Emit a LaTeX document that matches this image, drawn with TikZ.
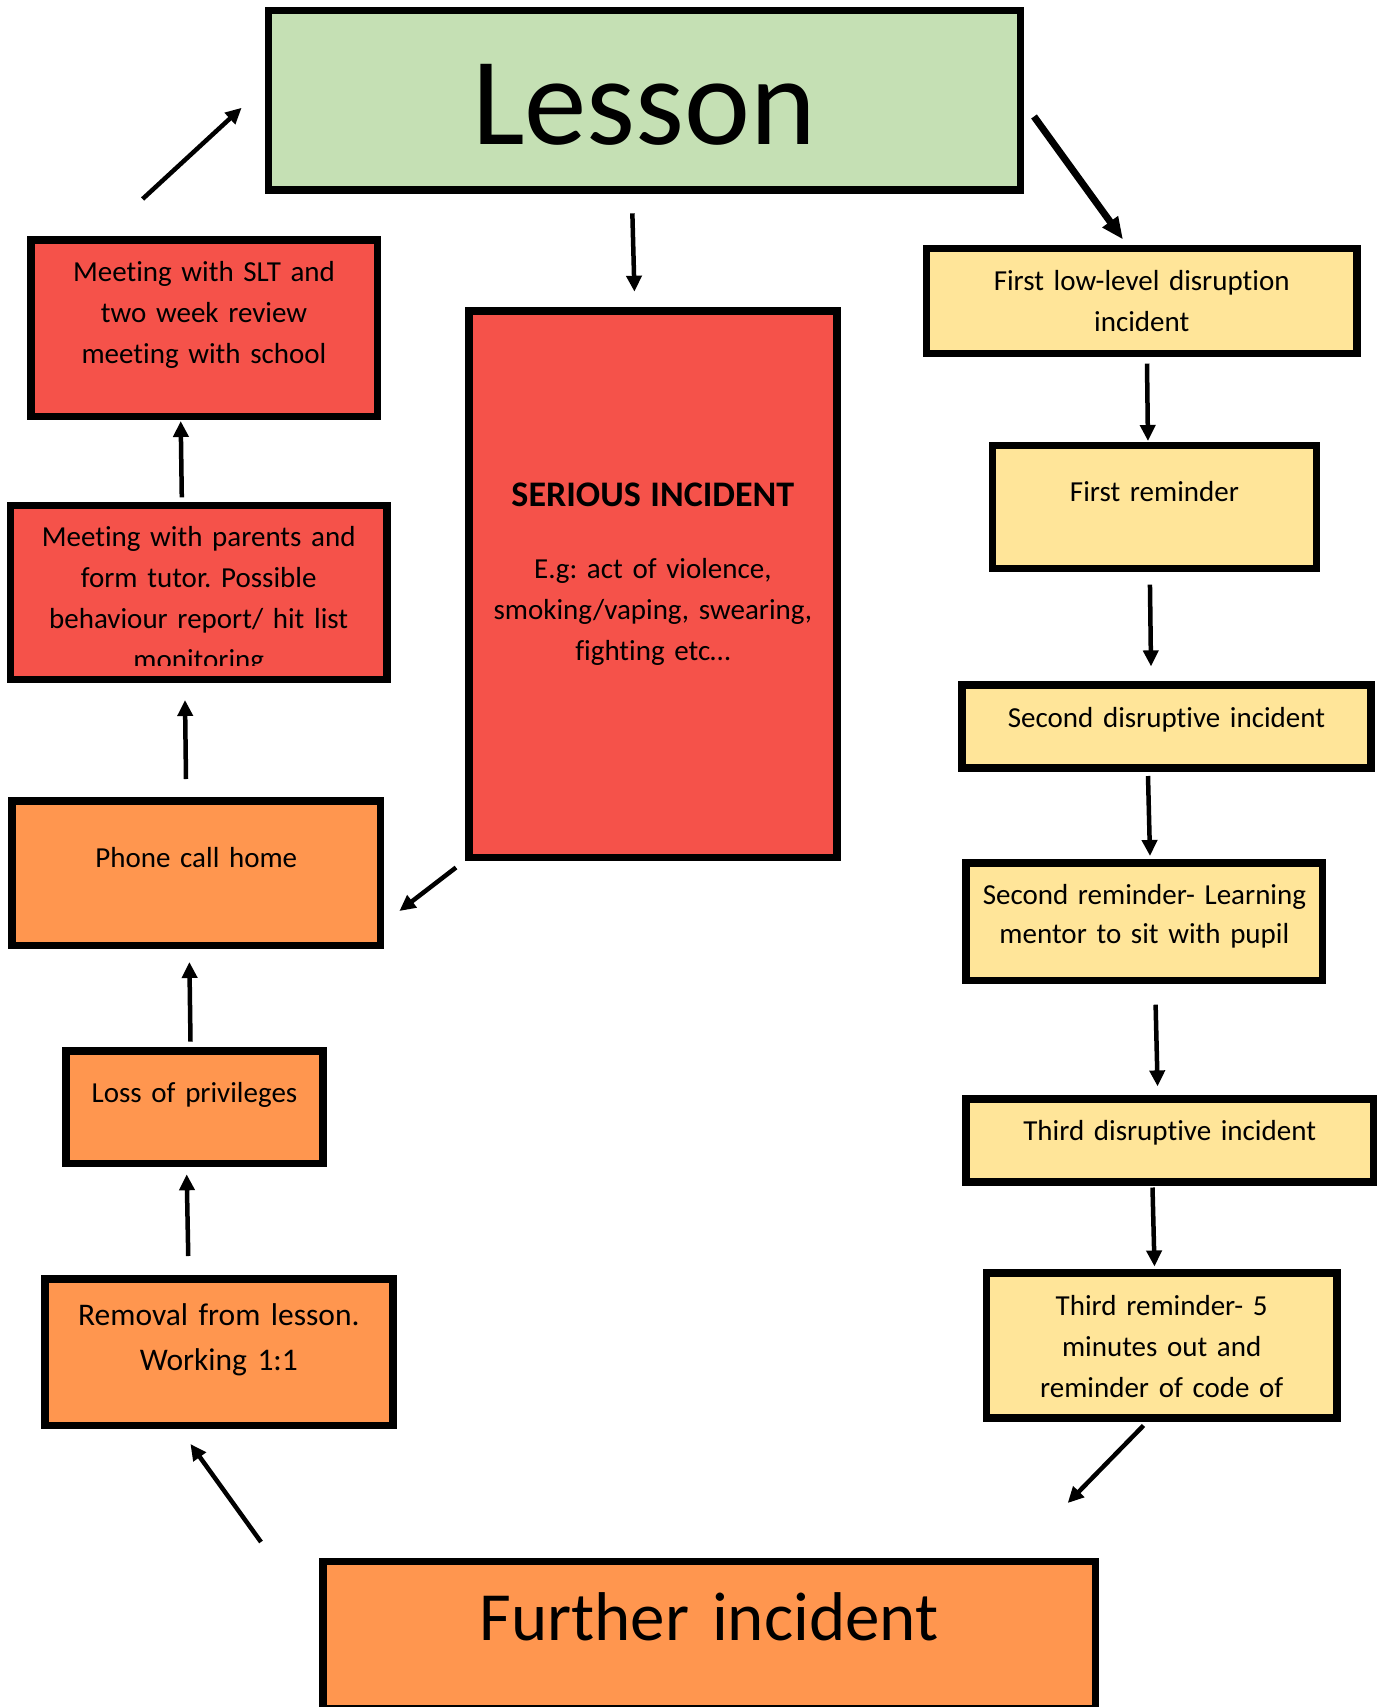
\documentclass[tikz,border=0pt]{standalone}
\usepackage{fontspec}
\setmainfont{Carlito}[Ligatures=NoCommon]
\usetikzlibrary{arrows.meta}
\frenchspacing

\definecolor{lessongreen}{HTML}{C5E0B4}
\definecolor{alertred}{HTML}{F5524A}
\definecolor{actorange}{HTML}{FF964F}
\definecolor{warnyellow}{HTML}{FFE599}

\begin{document}
\begin{tikzpicture}[
			x=1pt, y=-1pt,
			stage/.style={draw=black, line width=7.5pt, inner sep=0pt, align=center, font=\fontsize{29}{41}\selectfont},
			flow/.style={line width=4.5pt, -{Triangle[length=16pt,width=15pt]}}
			]
			\path[use as bounding box, fill=white] (0,0) rectangle (1379,1707);
			
			\node[
			stage, fill=lessongreen,
			text width=752pt, text height=134.25pt, text depth=45.25pt,
			font=\fontsize{125}{150}\selectfont
			] (lesson) at (644.25,100.5) {Lesson};
			
			% left column
			\node[
			stage, fill=alertred,
			text width=346.5pt, text height=42pt, text depth=134.5pt
			] (slt) at (204,328) {Meeting with SLT and\\two week review\\meeting with school};
			
			\node[
			stage, fill=alertred,
			minimum width=376.5pt, minimum height=174.1pt,
			path picture={
				\clip ([yshift=14.5pt]path picture bounding box.south west) rectangle (path picture bounding box.north east);
				\node[draw=none, fill=none, anchor=base, inner sep=0pt, text width=376.5pt, align=center, font=\fontsize{29}{41}\selectfont]
				at ([yshift=-41.25pt]path picture bounding box.north) {Meeting with parents and\\form tutor. Possible\\behaviour report/ hit list\\monitoring};
			}
			] (parents) at (198.7,592.5) {};
			
			\node[
			stage, fill=actorange,
			text width=368.5pt, text height=66.25pt, text depth=78.25pt
			] (phone) at (196.3,873.3) {Phone call home};
			
			\node[
			stage, fill=actorange,
			text width=256.9pt, text height=51.25pt, text depth=61.25pt
			] (loss) at (194.5,1107.3) {Loss of privileges};
			
			\node[
			stage, fill=actorange,
			text width=348.2pt, text height=46.25pt, text depth=100.55pt,
			font=\fontsize{31.5}{45}\selectfont
			] (removal) at (218.85,1352.15) {Removal from lesson.\\Working 1:1};
			
			% middle
			\node[
			stage, fill=alertred,
			text width=368.2pt, text height=194.85pt, text depth=351.25pt
			] (serious) at (652.85,584.2) {{\bfseries\fontsize{36}{41}\selectfont SERIOUS INCIDENT}\\[31pt]E.g: act of violence,\\smoking/vaping, swearing,\\fighting etc…};
			
			% right column
			\node[
			stage, fill=warnyellow,
			text width=430.5pt, text height=42pt, text depth=62.85pt
			] (first) at (1141.7,301.15) {First low-level disruption\\incident};
			
			\node[
			stage, fill=warnyellow,
			text width=324.4pt, text height=55.85pt, text depth=66.95pt
			] (remind1) at (1154.45,506.85) {First reminder};
			
			\node[
			stage, fill=warnyellow,
			text width=408.7pt, text height=42.45pt, text depth=40.45pt
			] (second) at (1166.5,726.4) {Second disruptive incident};
			
			\node[
			stage, fill=warnyellow,
			text width=356.5pt, text height=41.15pt, text depth=75.95pt,
			font=\fontsize{29}{39}\selectfont
			] (remind2) at (1144.4,921.7) {Second reminder- Learning\\mentor to sit with pupil};
			
			\node[
			stage, fill=warnyellow,
			text width=407.1pt, text height=41.85pt, text depth=41.15pt
			] (third) at (1169.7,1140.35) {Third disruptive incident};
			
			\node[
			stage, fill=warnyellow,
			text width=350.5pt, text height=41.95pt, text depth=102.95pt
			] (remind3) at (1161.7,1345.5) {Third reminder- 5\\minutes out and\\reminder of code of};
			
			\node[
			stage, fill=actorange,
			text width=772.5pt, text height=79.45pt, text depth=68.05pt,
			font=\fontsize{69}{80}\selectfont
			] (further) at (709,1635) {Further incident};
			
			% arrows
			\draw[flow] ([xshift=-61.4pt,yshift=37pt]slt.north) -- ([xshift=-22.9pt,yshift=-7.3pt]lesson.west);
			\draw[flow] ([xshift=-11.9pt,yshift=-19.3pt]lesson.south) -- ([xshift=-18.4pt,yshift=15.7pt]serious.north);
			\draw[flow, line width=7pt, -{Triangle[length=22pt,width=18pt]}] ([xshift=10pt,yshift=-16pt]lesson.east) -- ([xshift=-18.7pt,yshift=5.5pt]first.north);
			\draw[flow] ([xshift=5.3pt,yshift=-6.2pt]first.south) -- ([xshift=-6.5pt,yshift=0.7pt]remind1.north);
			\draw[flow] ([xshift=-4.5pt,yshift=-12.7pt]remind1.south) -- ([xshift=-15.5pt,yshift=14.8pt]second.north);
			\draw[flow] ([xshift=-18.5pt,yshift=-4.4pt]second.south) -- ([xshift=5.6pt,yshift=3.4pt]remind2.north);
			\draw[flow] ([xshift=11.2pt,yshift=-20.7pt]remind2.south) -- ([xshift=-12.1pt,yshift=8.7pt]third.north);
			\draw[flow] ([xshift=-17.2pt,yshift=-1.9pt]third.south) -- ([xshift=-7.2pt,yshift=2.8pt]remind3.north);
			\draw[flow] ([xshift=-18.2pt,yshift=-3.8pt]remind3.south) -- ([xshift=-31.3pt,yshift=54.5pt]further.north east);
			\draw[flow] ([xshift=-58pt,yshift=15.5pt]further.north west) -- ([xshift=-28.4pt,yshift=-14.7pt]removal.south);
			\draw[flow] ([xshift=-30.6pt,yshift=19pt]removal.north) -- ([xshift=-7.8pt,yshift=-7pt]loss.south);
			\draw[flow] ([xshift=-4pt,yshift=5.7pt]loss.north) -- ([xshift=-6.9pt,yshift=-12.7pt]phone.south);
			\draw[flow] ([xshift=-10.3pt,yshift=18.3pt]phone.north) -- ([xshift=-13.7pt,yshift=-16.7pt]parents.south);
			\draw[flow] ([xshift=-16.9pt,yshift=4.3pt]parents.north) -- ([xshift=-23.3pt,yshift=-1pt]slt.south);
			\draw[flow] ([xshift=-9pt,yshift=-6.5pt]serious.south west) -- ([xshift=15.1pt,yshift=-37.7pt]phone.east);
		\end{tikzpicture}
\end{document}
